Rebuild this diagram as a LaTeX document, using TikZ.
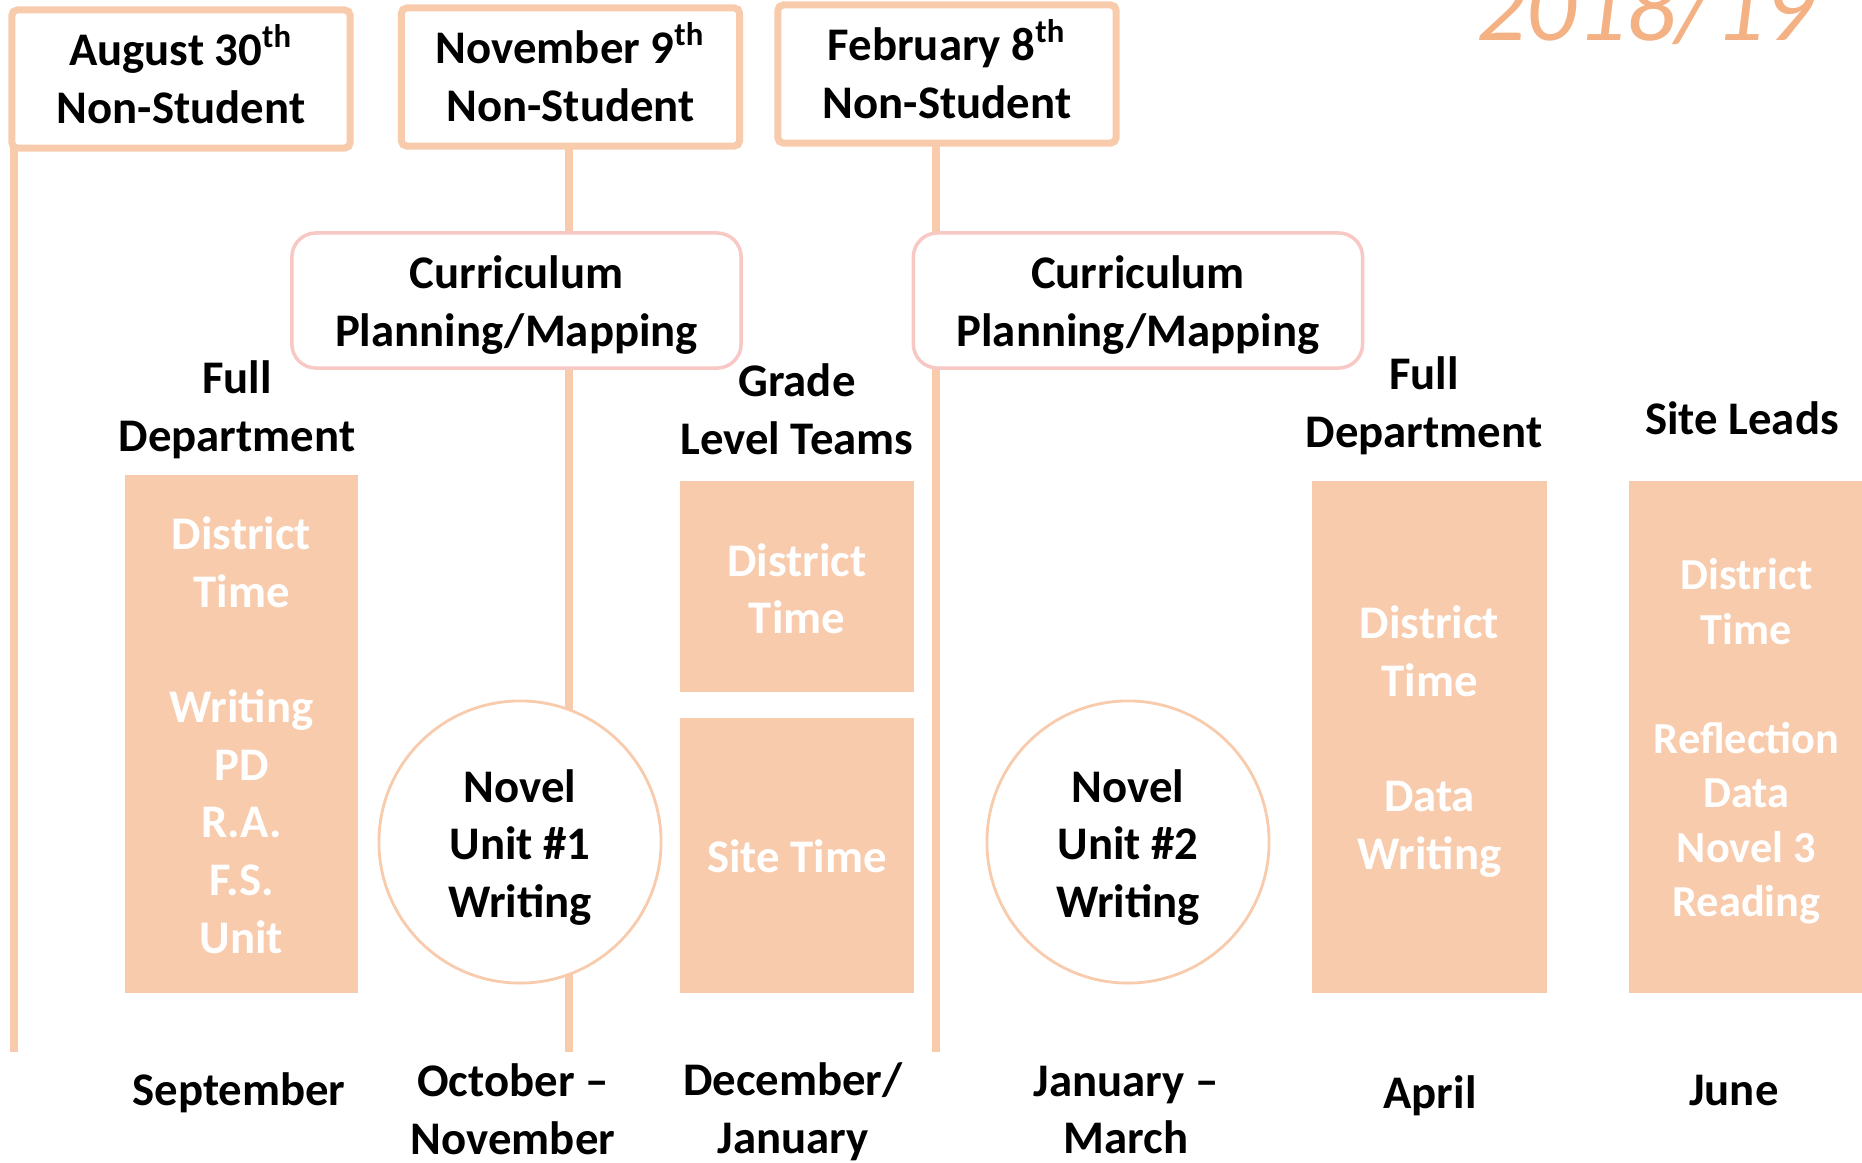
\documentclass[tikz,border=0pt]{standalone}
\usepackage{fontspec}
\setmainfont{Carlito}
\definecolor{peach}{HTML}{F8CBAD}
\definecolor{rectfill}{HTML}{F7CBAC}
\definecolor{pinkb}{HTML}{F8C8C4}
\definecolor{yearc}{HTML}{F4B183}
\begin{document}
\begin{tikzpicture}[x=0.01cm,y=-0.01cm,
  txt/.style={font=\fontsize{13.3}{16.4}\selectfont\bfseries, align=center, inner sep=0pt},
  wtxt/.style={txt, text=white},
  datebox/.style={draw=peach, line width=2pt, fill=white, minimum width=3.38cm, minimum height=1.38cm, rounded corners=1.5pt, inner sep=0pt},
  planbox/.style={draw=pinkb, line width=1pt, fill=white, minimum width=4.49cm, minimum height=1.35cm, rounded corners=0.24cm, inner sep=0pt},
  block/.style={fill=rectfill, minimum width=2.33cm, inner sep=0pt},
  novel/.style={circle, draw=peach, line width=0.8pt, fill=white, minimum size=2.82cm, inner sep=0pt},
  tline/.style={draw=peach, line width=2pt},
  label/.style={txt}
]
\useasboundingbox (0,0) rectangle (1862,1162);
% end coordinates of the time lines
\coordinate (e1) at (14,1052);
\coordinate (e2) at (569,1052);
\coordinate (e3) at (936,1052);
\coordinate (s1) at (14,148);
\coordinate (s2) at (569,146);
\coordinate (s3) at (936,143);
\draw[tline] (s1) -- (e1);
\draw[tline] (s2) -- (e2);
\draw[tline] (s3) -- (e3);

% date boxes
\node[datebox] (b1) at (181,79) {};
\node[datebox] (b2) at (570.5,77) {};
\node[datebox] (b3) at (947,74) {};
\node[txt] (tb1) at ([yshift=1.5pt]b1.center) {August 30\textsuperscript{th}\\Non-Student};
\node[txt] (tb2) at ([yshift=1.5pt]b2.center) {November 9\textsuperscript{th}\\Non-Student};
\node[txt] (tb3) at ([yshift=1.5pt]b3.center) {February 8\textsuperscript{th}\\Non-Student};

% year
\node[anchor=base east, inner sep=0pt, text=yearc, font=\fontsize{28}{34}\selectfont\itshape] (yr) at (1815,40) {2018/19};

% planning boxes
\node[planbox] (p1) at (516.5,300.5) {};
\node[planbox] (p2) at (1138,300.5) {};
\node[txt] (tp1) at ([yshift=-1.35pt]p1.center) {Curriculum\\Planning/Mapping};
\node[txt] (tp2) at ([yshift=-1.35pt]p2.center) {Curriculum\\Planning/Mapping};

% headers
\node[label] (h1) at (237,410) {Full\\Department};
\node[label] (h2) at (797,409) {Grade\\Level Teams};
\node[label] (h3) at (1424,406) {Full\\Department};
\node[label] (h4) at (1742,418) {Site Leads};

% blocks
\node[block, minimum height=5.18cm] (r1) at (241.5,734) {};
\node[block, minimum width=2.34cm, minimum height=2.11cm] (r2) at (797,586.5) {};
\node[block, minimum width=2.34cm, minimum height=2.75cm] (r3) at (797,855.5) {};
\node[block, minimum width=2.35cm, minimum height=5.12cm] (r4) at (1429.5,737) {};
\node[block, minimum width=2.35cm, minimum height=5.12cm] (r5) at (1746.5,737) {};
\node[wtxt] (tr1) at ([yshift=-0.3pt]r1.center) {District\\Time\\\mbox{}\\Writing\\PD\\R.A.\\F.S.\\Unit};
\node[wtxt] (tr2) at ([yshift=-0.6pt]r2.center) {District\\Time};
\node[wtxt] (tr3) at ([yshift=-0.3pt]r3.center) {Site Time};
\node[wtxt] (tr4) at ([yshift=-1.2pt]r4.center) {District\\Time\\\mbox{}\\Data\\Writing};
\node[wtxt, font=\fontsize{12.6}{15.5}\selectfont\bfseries] (tr5) at ([yshift=-1.2pt]r5.center) {District\\Time\\\mbox{}\\Reflection\\Data\\Novel 3\\Reading};

% circles
\node[novel] (c1) at (520,842) {};
\node[novel] (c2) at (1128,842) {};
\node[txt] (tc1) at ([yshift=-1.5pt]c1.center) {Novel\\Unit \#1\\Writing};
\node[txt] (tc2) at ([yshift=-1.5pt]c2.center) {Novel\\Unit \#2\\Writing};

% months
\node[label] (m1) at (239,1093) {September};
\node[label] (m2) at (513,1109) {October --\\November};
\node[label] (m3) at (793,1112) {December/\\January};
\node[label] (m4) at (1126,1110) {January --\\March};
\node[label] (m5) at (1430,1096) {April};
\node[label] (m6) at (1734,1090) {June};
\end{tikzpicture}
\end{document}
